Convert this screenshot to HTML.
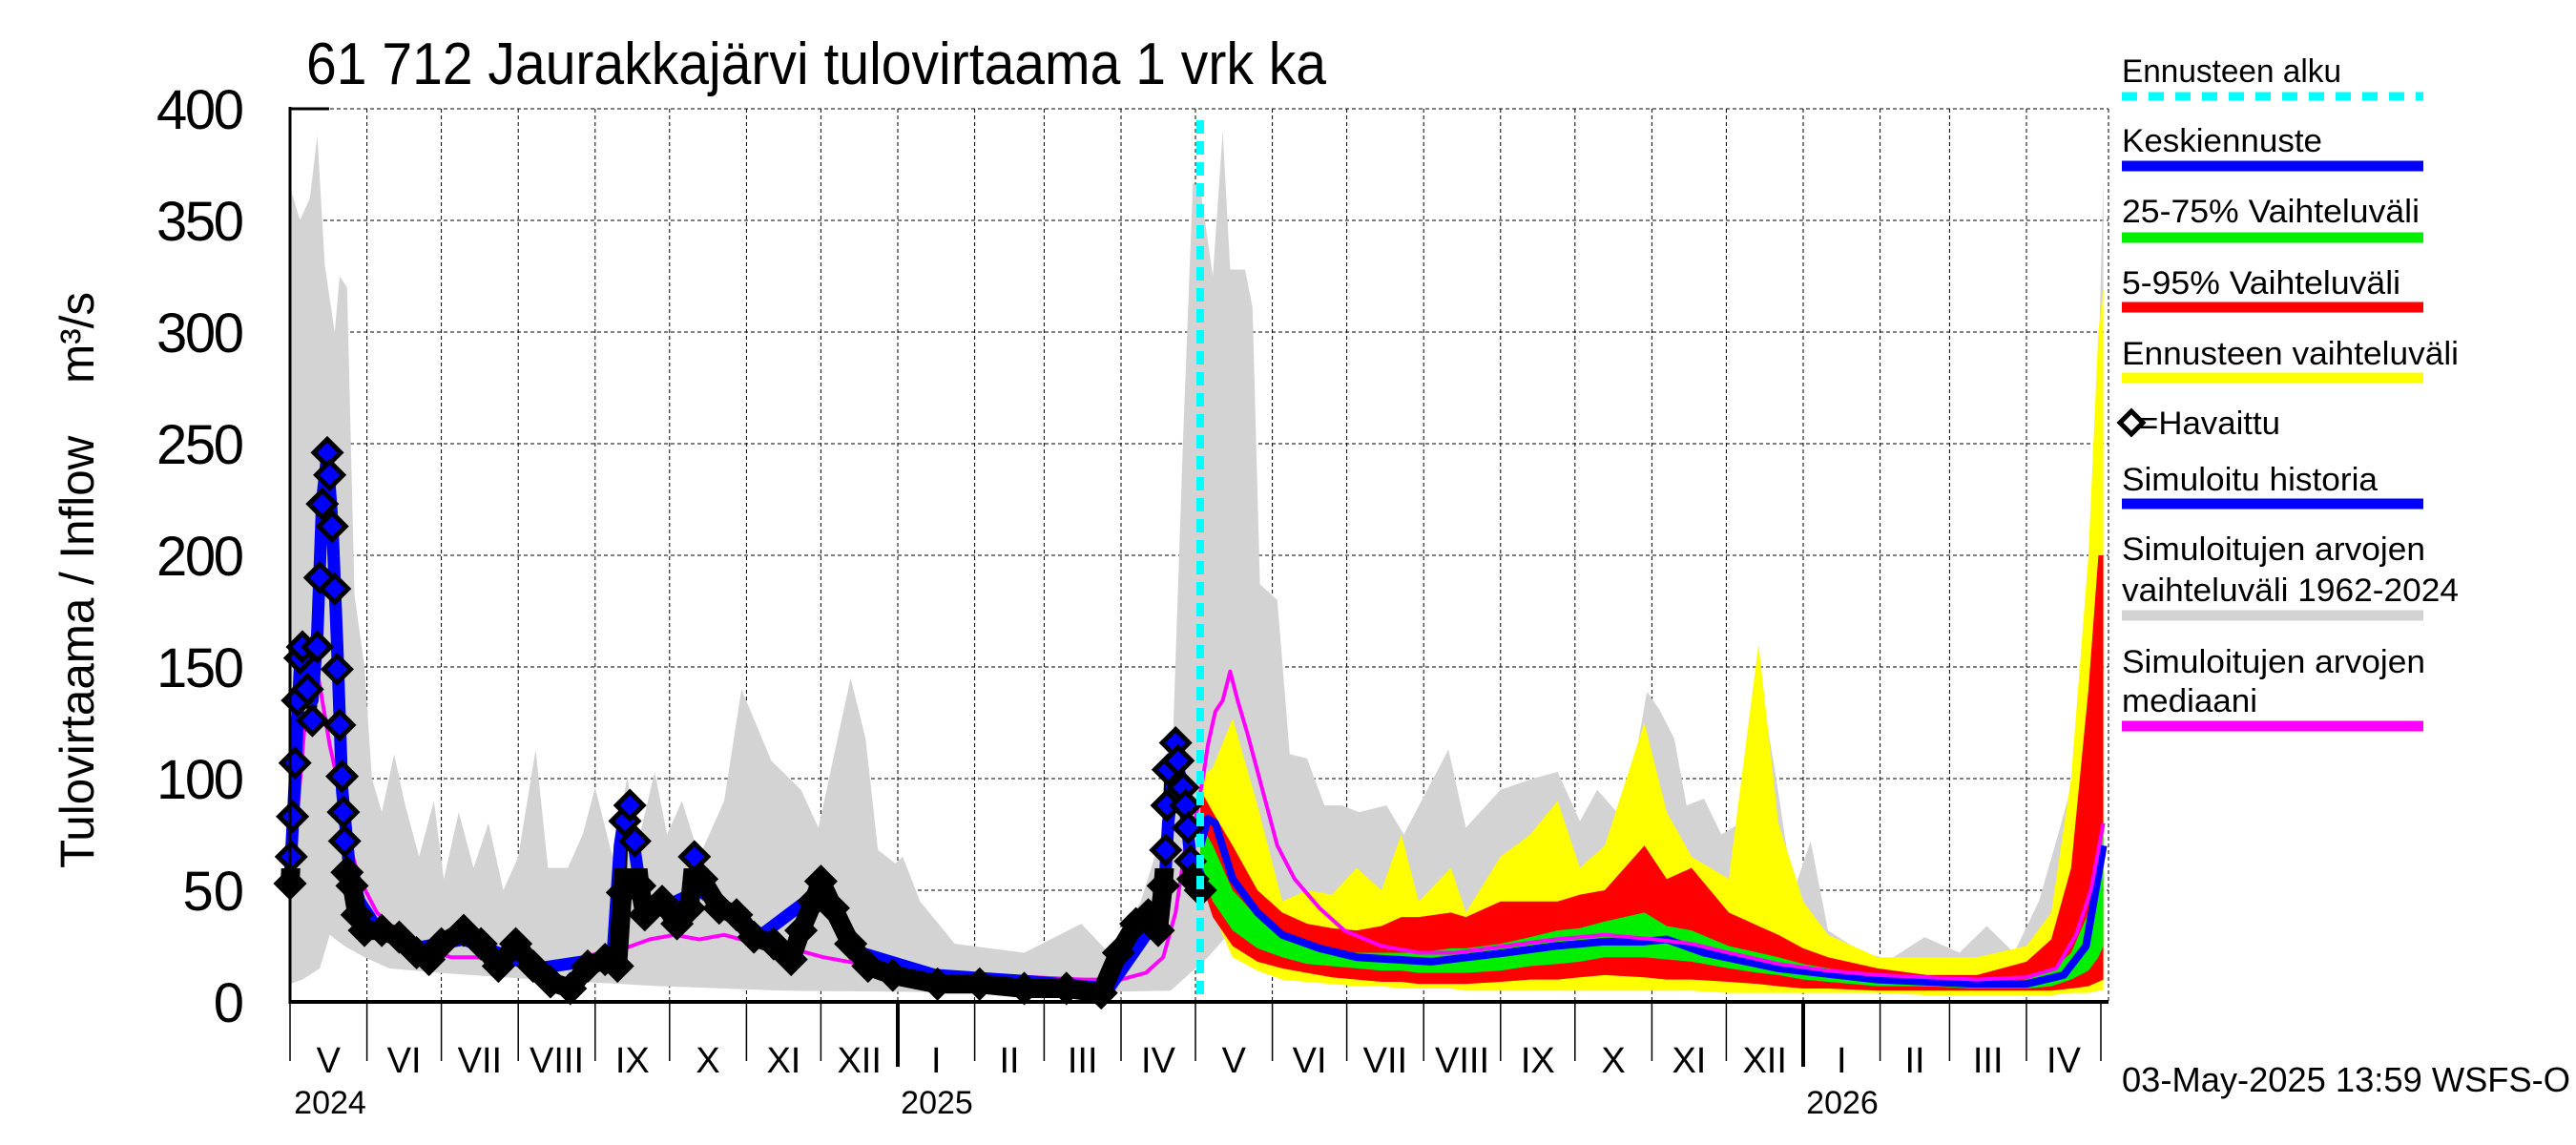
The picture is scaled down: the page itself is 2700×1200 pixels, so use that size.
<!DOCTYPE html>
<html><head><meta charset="utf-8"><style>
html,body{margin:0;padding:0;background:#fff;}
svg{display:block;font-family:"Liberation Sans",sans-serif;}
</style></head><body>
<svg id="chart" width="2700" height="1200" viewBox="0 0 2700 1200" xmlns="http://www.w3.org/2000/svg">
<defs><clipPath id="lowclip"><rect x="0" y="910" width="2700" height="300"/></clipPath></defs>
<g id="grid"></g>
<g id="bands"></g>
<g id="lines"></g>
<g id="axes"></g>
<text x="321" y="88" font-size="62" textLength="1069" lengthAdjust="spacingAndGlyphs">61 712 Jaurakkajärvi tulovirtaama 1 vrk ka</text>
<text transform="translate(98,608) rotate(-90)" text-anchor="middle" font-size="50" textLength="604" lengthAdjust="spacingAndGlyphs" style="white-space:pre" xml:space="preserve">Tulovirtaama / Inflow    m³/s</text>
<text x="2224" y="1144" font-size="36" textLength="470" lengthAdjust="spacingAndGlyphs">03-May-2025 13:59 WSFS-O</text>
<g id="legend"></g>
</svg>
<script>
// ---- data (day index from 2024-05-01, values m3/s) ----
const greyUpDays=[0,4,8,11,14,18,20,23,26,30,33,37,42,46,52,58,62,68,74,80,86,92,99,104,112,118,123,130,136,140,147,152,158,165,175,182,185,194,206,213,226,232,237,244,247,254,268,296,319,330,343,355,360,364,367,372,376,379,385,388,391,398,403,410,417,424,431,442,449,467,474,488,501,511,520,527,538,547,552,558,563,570,577,586,592,599,606,613,620,634,645,659,673,684,695,705,712,720,725,729,731];
const greyUpVals=[365,350,360,388,330,300,325,320,182,150,100,85,111,90,65,90,55,85,60,80,50,65,113,60,60,75,96,65,101,70,103,75,90,65,90,140,132,108,95,78,145,118,68,62,65,45,26,22,35,22,45,88,252,367,364,325,390,328,328,311,187,180,111,109,88,88,85,88,75,113,78,95,100,103,81,95,81,139,131,118,88,91,75,81,147,101,49,72,32,22,19,29,22,34,22,45,72,104,187,285,369];
const greyLoDays=[0,5,12,16,22,30,40,60,100,150,200,300,355,360,370,378,385,395,420,480,560,600,700,725,731];
const greyLoVals=[8,10,15,30,25,20,15,13,10,7,5,4,5,10,20,30,25,15,10,5,8,5,4,8,12];

const fcDays=[367,372,380,390,400,410,420,430,440,448,455,468,474,488,500,511,520,530,546,555,565,580,592,600,610,620,640,660,680,700,710,718,725,729,731];
const yellowHi=[100,105,127,88,45,50,48,60,50,75,45,60,40,65,75,90,60,70,125,85,65,55,160,80,45,30,20,20,20,25,40,100,200,300,320];
const yellowLo=[60,40,20,14,10,9,8,7,7,6,6,6,5,5,5,5,5,5,5,5,5,4,4,4,4,4,4,3,3,3,3,4,4,5,5];
const redHi=[95,85,70,50,40,35,33,32,34,38,38,40,38,45,45,45,48,50,70,55,60,40,34,30,24,20,15,12,12,18,28,60,140,200,200];
const redLo=[55,38,25,18,15,13,11,10,9,9,8,8,8,9,10,10,11,12,11,10,10,9,8,7,6,6,5,5,5,5,5,6,7,9,10];
const greenHi=[80,70,50,38,30,26,23,22,22,22,22,24,24,26,29,32,33,36,40,34,32,25,22,20,17,15,12,10,9,10,14,22,40,55,80];
const greenLo=[60,45,32,24,20,17,16,15,14,14,13,13,13,14,16,17,18,20,20,19,18,15,13,12,10,9,7,7,6,6,7,10,14,20,25];
const meanDays=[367,370,373,380,390,400,415,430,460,490,510,530,546,555,570,600,640,680,700,715,724,731];
const meanVals=[70,82,80,55,40,30,24,20,18,22,25,27,27,28,22,15,10,8,8,12,25,70];

const medDays=[0,3,6,9,11,13,16,20,24,28,35,45,55,65,75,85,95,105,115,125,135,145,155,165,175,185,195,205,215,230,250,280,300,320,335,345,352,357,361,365,368,370,373,376,379,382,386,392,398,405,415,425,440,455,470,490,510,530,550,565,580,600,620,640,660,680,700,712,720,726,731];
const medVals=[60,85,125,135,148,135,115,95,70,55,40,30,23,20,20,19,17,17,19,22,24,28,30,28,30,27,27,23,20,17,14,12,11,10,10,13,20,40,70,82,100,115,130,135,148,135,120,95,70,55,42,32,25,22,22,25,28,30,28,26,22,17,14,12,11,10,11,15,30,50,80];

const obsDays=[0,0.5,1,2,3,4,5,7,9,11,12,13,15,16,17,18,19,20,21,21.5,22,23,25,27,30,37,44,51,56,61,70,77,84,91,98,105,113,120,127,132,134,135,137,139,141,143,150,156,161,163,166,173,180,187,195,202,206,211,214,219,226,233,243,261,278,296,313,327,334,341,346,350,352,353,353.5,354,357,358,360,361,362,363,364,367];
const obsVals=[53,65,83,107,135,154,159,140,126,159,190,223,246,236,213,185,149,124,101,85,72,58,52,39,32,32,29,22,19,26,32,26,16,26,16,9,6,16,19,16,49,81,88,72,52,39,45,35,42,65,55,42,39,29,26,19,32,45,54,42,26,16,12,8,8,6,6,4,22,35,39,32,52,68,88,104,116,108,96,88,78,63,55,50];
const simDays=[0,2,4,6,9,11,13,15,17,19,21,24,28,35,50,70,100,130,133,135,138,142,150,165,190,214,230,260,300,330,345,352,354,357,360,363,367];
const simVals=[55,100,150,155,135,165,225,245,215,160,95,60,45,33,24,28,15,20,70,85,75,45,42,50,30,50,22,12,9,6,30,40,80,110,95,65,55];

// ---- axes ----
const X0=304, PXD=2.6, Y0=1050, YS=936/400;
const xs=d=>X0+d*PXD, ys=v=>Y0-v*YS;
const NS='http://www.w3.org/2000/svg';
function mk(tag,parent,attrs){const e=document.createElementNS(NS,tag);for(const k in attrs)e.setAttribute(k,attrs[k]);parent.appendChild(e);return e;}
const grid=document.getElementById('grid'),bands=document.getElementById('bands'),lines=document.getElementById('lines'),axes=document.getElementById('axes'),legend=document.getElementById('legend');
const XR=2210;

const start=Date.UTC(2024,4,1);
const monthNames=['I','II','III','IV','V','VI','VII','VIII','IX','X','XI','XII'];
const bounds=[];
for(let i=0;i<=24;i++){const y=2024+Math.floor((4+i)/12),m=(4+i)%12;bounds.push({d:(Date.UTC(y,m,1)-start)/864e5,m:m,y:y});}
bounds.forEach((b,i)=>{
  const x=xs(b.d);
  if(i>0&&i<24){const g=mk('line',grid,{x1:x,y1:114,x2:x,y2:Y0,stroke:'#000','stroke-width':1,'stroke-dasharray':'4,3'});
  }
  const t=mk('line',axes,{x1:x,y1:Y0,x2:x,y2:b.m===0?1118:1112,stroke:'#000','stroke-width':b.m===0?4:1.5});
  
  if(i<24){const xm=(x+xs(bounds[i+1].d))/2;
    const l=mk('text',axes,{x:xm,y:1124,'text-anchor':'middle','font-size':38});l.textContent=monthNames[b.m];
    }
});
[[2024,346],[2025,982],[2026,1931]].forEach(([yr,x])=>{const t=mk('text',axes,{x:x,y:1167,'text-anchor':'middle','font-size':34});t.textContent=yr;
  });
for(let v=0;v<=400;v+=50){
  const y=ys(v);
  if(v>0){const g=mk('line',grid,{x1:X0,y1:y,x2:XR,y2:y,stroke:'#000','stroke-width':1,'stroke-dasharray':'4,3'});
  }
  const t=mk('text',axes,{x:256,y:y+21,'text-anchor':'end','font-size':58});t.textContent=v;
  if(v>=100)t.setAttribute('textLength',92);
  
}
const rb=mk('line',grid,{x1:XR,y1:114,x2:XR,y2:Y0,stroke:'#000','stroke-width':1,'stroke-dasharray':'4,3'});


function band(days,hi,lo,fill,name){
  let p='M'+days.map((d,i)=>xs(d)+','+ys(hi[i])).join('L');
  for(let i=days.length-1;i>=0;i--)p+='L'+xs(days[i])+','+ys(lo[i]);
  const e=mk('path',bands,{d:p+'Z',fill:fill});
  
}
function interpAt(days,vals,d){for(let i=1;i<days.length;i++)if(d<=days[i]){const t=(d-days[i-1])/(days[i]-days[i-1]);return vals[i-1]+t*(vals[i]-vals[i-1]);}return vals[vals.length-1];}
const gDays=[...new Set(greyUpDays.concat(greyLoDays))].sort((a,b)=>a-b);
band(gDays,gDays.map(d=>interpAt(greyUpDays,greyUpVals,d)),gDays.map(d=>interpAt(greyLoDays,greyLoVals,d)),'#d3d3d3','historical-range-band');
band(fcDays,yellowHi,yellowLo,'#ffff00','forecast-range-band');
band(fcDays,redHi,redLo,'#ff0000','band-5-95');
band(fcDays,greenHi,greenLo,'#00ee00','band-25-75');

function line(days,vals,color,w,name,clip){
  const e=mk('polyline',lines,{points:days.map((d,i)=>xs(d)+','+ys(vals[i])).join(' '),fill:'none',stroke:color,'stroke-width':w,'stroke-linejoin':'round'});
  if(clip)e.setAttribute('clip-path','url(#lowclip)');
  
}
line(meanDays,meanVals,'#0000ff',8,'forecast-mean-line');
line(medDays,medVals,'#ff00ff',4,'median-line');
line(obsDays,obsVals,'#000',8,'observed-trace');
line(simDays,simVals,'#0000ff',13,'simulated-history-line');
line(obsDays,obsVals,'#000',20,'observed-trace-low',true);
obsDays.forEach((d,i)=>{
  const x=xs(d),y=ys(obsVals[i]),r=14;
  const e=mk('polygon',lines,{points:`${x},${y-r} ${x+r},${y} ${x},${y+r} ${x-r},${y}`,fill:obsVals[i]>60?'#0000ff':'#000',stroke:'#000','stroke-width':5});
  
});
const fl=mk('line',lines,{x1:1258,y1:126,x2:1258,y2:Y0,stroke:'#00ffff','stroke-width':8,'stroke-dasharray':'14,8'});


const ax1=mk('line',axes,{x1:X0,y1:112,x2:X0,y2:Y0+2,stroke:'#000','stroke-width':3});

const ax2=mk('line',axes,{x1:X0,y1:Y0,x2:XR,y2:Y0,stroke:'#000','stroke-width':4});

const ax3=mk('line',axes,{x1:X0,y1:114,x2:345,y2:114,stroke:'#000','stroke-width':3});


const legItems=[
 {t:['Ennusteen alku'],ty:[86],by:101,c:'#00ffff',dash:true,w:[230]},
 {t:['Keskiennuste'],ty:[159],by:174,c:'#0000ff',w:[210]},
 {t:['25-75% Vaihteluväli'],ty:[233],by:249,c:'#00ee00',w:[312]},
 {t:['5-95% Vaihteluväli'],ty:[308],by:322,c:'#ff0000',w:[292]},
 {t:['Ennusteen vaihteluväli'],ty:[382],by:396,c:'#ffff00',w:[353]},
 {t:['=Havaittu'],ty:[455],by:null,c:null,diamond:true,w:[148]},
 {t:['Simuloitu historia'],ty:[514],by:528,c:'#0000ff',w:[268]},
 {t:['Simuloitujen arvojen','vaihteluväli 1962-2024'],ty:[587,630],by:645,c:'#d3d3d3',w:[318,353]},
 {t:['Simuloitujen arvojen','mediaani'],ty:[705,746],by:761,c:'#ff00ff',w:[318,142]}
];
legItems.forEach(it=>{
  it.t.forEach((s,j)=>{const e=mk('text',legend,{x:it.diamond?2242:2224,y:it.ty[j],'font-size':34,textLength:it.w[j],lengthAdjust:'spacingAndGlyphs'});e.textContent=s;
    });
  if(it.by){const b=mk('line',legend,{x1:2224,y1:it.by,x2:2540,y2:it.by,stroke:it.c,'stroke-width':it.dash?9:11});
    if(it.dash)b.setAttribute('stroke-dasharray','16,12');
    }
  if(it.diamond){const d=mk('polygon',legend,{points:'2234,431 2246,443 2234,455 2222,443',fill:'none',stroke:'#000','stroke-width':5});
    }
});
</script>
</body></html>
